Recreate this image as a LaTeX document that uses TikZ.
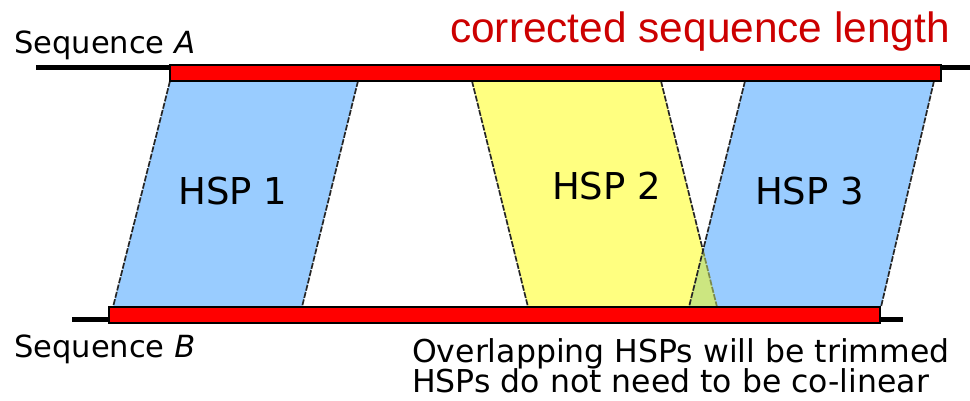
\documentclass[tikz,border=0pt]{standalone}
\usepackage{fontspec}
\setmainfont{DejaVu Sans}
\newfontfamily\titlefont{Liberation Sans}
\usetikzlibrary{positioning}

\definecolor{hspblue}{HTML}{99CCFF}
\definecolor{hspyellow}{HTML}{FFFF80}
\definecolor{hspgreen}{HTML}{CCE680}
\definecolor{titlered}{HTML}{CC0000}

\begin{document}
\begin{tikzpicture}[x=1pt,y=-1pt,
  seqline/.style={line width=5pt},
  seqbar/.style={fill=red,draw=black,line width=1.3pt},
  hspedge/.style={draw=black!85,line width=1.7pt,dash pattern=on 6pt off 1.5pt},
  hsplabel/.style={inner sep=0pt,font=\fontsize{37}{44}\selectfont},
  seqlabel/.style={inner sep=0pt,anchor=base west,font=\fontsize{30.5}{36}\selectfont},
  note/.style={inner sep=0pt,anchor=base west,font=\fontsize{31.5}{36}\selectfont}]

  \useasboundingbox (0,0) rectangle (970,400);

  % sequence lines
  \coordinate (a0) at (36,67.5);
  \coordinate (a1) at (970,67.5);
  \coordinate (b0) at (72,319.5);
  \coordinate (b1) at (903,319.5);
  \draw[seqline] (a0) -- (a1);
  \draw[seqline] (b0) -- (b1);

  % HSP corners (top on A, bottom on B)
  \coordinate (h1tl) at (170,81);  \coordinate (h1tr) at (358,81);
  \coordinate (h1bl) at (113,307); \coordinate (h1br) at (302,307);
  \coordinate (h2tl) at (472,81);  \coordinate (h2tr) at (661,81);
  \coordinate (h2bl) at (528,307); \coordinate (h2br) at (717,307);
  \coordinate (h3tl) at (745,81);  \coordinate (h3tr) at (934,81);
  \coordinate (h3bl) at (689,307); \coordinate (h3br) at (881,307);
  \coordinate (x23) at (intersection of h2tr--h2br and h3tl--h3bl);

  \fill[hspblue] (h1tl) -- (h1tr) -- (h1br) -- (h1bl) -- cycle;
  \fill[hspyellow] (h2tl) -- (h2tr) -- (h2br) -- (h2bl) -- cycle;
  \fill[hspblue] (h3tl) -- (h3tr) -- (h3br) -- (h3bl) -- cycle;
  \fill[hspgreen] (x23) -- (h2br) -- (h3bl) -- cycle;

  \draw[hspedge] (h1tl) -- (h1bl);
  \draw[hspedge] (h1tr) -- (h1br);
  \draw[hspedge] (h2tl) -- (h2bl);
  \draw[hspedge] (h2tr) -- (x23);
  \draw[hspedge,draw=black!40!hspgreen] (x23) -- (h2br);
  \draw[hspedge] (h3tl) -- (h3bl);
  \draw[hspedge] (h3tr) -- (h3br);

  % corrected lengths
  \draw[seqbar] (170,65) rectangle (941,81);
  \draw[seqbar] (109,307) rectangle (880,323);

  \node[hsplabel] (hsp1) at (233,191.5) {HSP 1};
  \node[hsplabel] (hsp2) at (606.5,186.5) {HSP 2};
  \node[hsplabel] (hsp3) at (809.5,191.5) {HSP 3};

  \node[seqlabel] (seqA) at (14,53) {Sequence \textit{A}};
  \node[seqlabel] (seqB) at (14,357) {Sequence \textit{B}};

  \node[inner sep=0pt,anchor=base west,text=titlered,
    font=\titlefont\fontsize{42.4}{50}\selectfont] (title) at (450,42)
    {corrected sequence length};

  \node[note] (note1) at (412,362) {Overlapping HSPs will be trimmed};
  \node[note] (note2) at (412,392.5) {HSPs do not need to be co-linear};
\end{tikzpicture}
\end{document}
